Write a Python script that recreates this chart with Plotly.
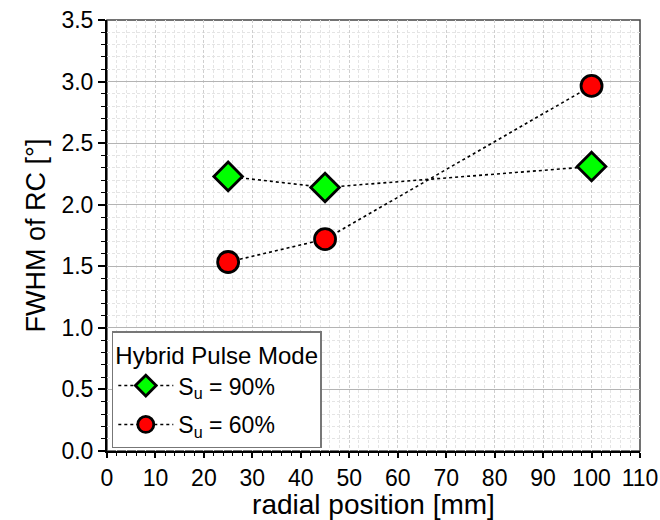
import plotly.graph_objects as go

radial_pos = [25, 45, 100]
fwhm_su90 = [2.23, 2.14, 2.31]
fwhm_su60 = [1.535, 1.72, 2.965]
series_names = ["S<sub>u</sub> = 90%", "S<sub>u</sub> = 60%"]
legend_title = "Hybrid Pulse Mode"

FONT = "Liberation Sans, Arial, sans-serif"

fig = go.Figure()
fig.add_trace(go.Scatter(
    x=radial_pos, y=fwhm_su90, mode="lines+markers", name=series_names[0],
    legendgroup="a",
    line=dict(color="black", width=1.6, dash="dot"),
    marker=dict(symbol="diamond", size=22, color="#00ff00", line=dict(color="black", width=2.8)),
))
fig.add_trace(go.Scatter(
    x=radial_pos, y=fwhm_su60, mode="lines+markers", name=series_names[1],
    legendgroup="b",
    line=dict(color="black", width=1.6, dash="dot"),
    marker=dict(symbol="circle", size=21, color="#ff0000", line=dict(color="black", width=2.8)),
))

fig.add_shape(type="rect", xref="paper", yref="paper", x0=0, y0=0, x1=1, y1=1,
              line=dict(color="#444444", width=1.5), layer="below")

fig.update_layout(
    width=660, height=520,
    margin=dict(l=107, r=20, t=20, b=69, autoexpand=False),
    paper_bgcolor="white", plot_bgcolor="white",
    font=dict(family=FONT, color="black"),
    showlegend=True,
    legend=dict(
        x=0.009, y=0.006, xanchor="left", yanchor="bottom",
        bgcolor="white", bordercolor="#777777", borderwidth=1.5,
        title=dict(text=legend_title, font=dict(size=24, family=FONT)),
        font=dict(size=23, family=FONT),
        itemwidth=55, tracegroupgap=6,
    ),
)

fig.update_xaxes(
    range=[0, 110], dtick=10, tick0=0, automargin=True,
    showline=True, linecolor="black", linewidth=2,
    ticks="outside", ticklen=5, tickwidth=1.5, tickcolor="black",
    tickfont=dict(size=23, family=FONT),
    title=dict(text="radial position [mm]", font=dict(size=28, family=FONT), standoff=0),
    showgrid=True, gridcolor="#cfcfcf", gridwidth=1, griddash="3px,2px",
    zeroline=False,
    minor=dict(dtick=2, ticks="outside", ticklen=3, tickcolor="black", tickwidth=1,
               showgrid=True, gridcolor="#e4e4e4", gridwidth=1, griddash="3px,2px"),
)
fig.update_yaxes(
    range=[0, 3.5], dtick=0.5, tick0=0, tickformat=".1f", automargin=True,
    showline=True, linecolor="black", linewidth=2,
    ticks="outside", ticklen=7, tickwidth=1.5, tickcolor="black",
    tickfont=dict(size=23, family=FONT),
    title=dict(text="FWHM of RC [°]", font=dict(size=27, family=FONT), standoff=8),
    showgrid=True, gridcolor="#b4b4b4", gridwidth=1.2,
    zeroline=False,
    minor=dict(dtick=0.1, ticks="outside", ticklen=4, tickcolor="black", tickwidth=1,
               showgrid=True, gridcolor="#e4e4e4", gridwidth=1, griddash="3px,2px"),
)

fig.write_html("out.html")
